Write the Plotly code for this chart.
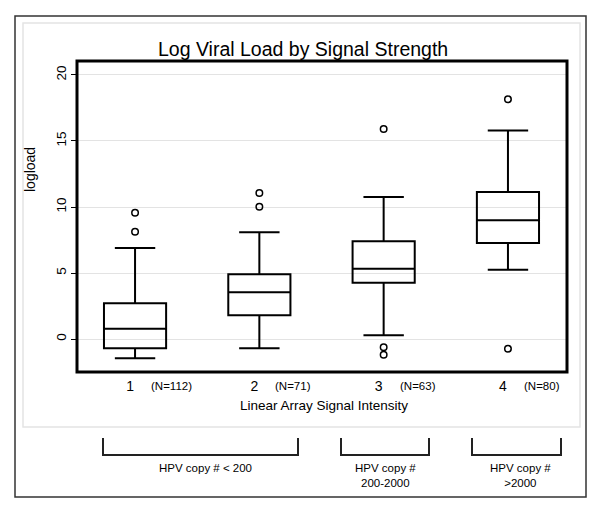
import plotly.graph_objects as go

# ---------------- data ----------------
categories = [1, 2, 3, 4]
tick_labels = ["1", "2", "3", "4"]
n_labels = ["(N=112)", "(N=71)", "(N=63)", "(N=80)"]

q1 = [-0.70, 1.80, 4.27, 7.27]
median = [0.78, 3.54, 5.33, 9.00]
q3 = [2.70, 4.90, 7.40, 11.14]
lower_whisker = [-1.46, -0.70, 0.28, 5.25]
upper_whisker = [6.90, 8.08, 10.76, 15.80]

outlier_x = [1, 1, 2, 2, 3, 3, 3, 4, 4]
outlier_y = [9.57, 8.13, 11.06, 10.02, 15.90, -0.63, -1.20, 18.16, -0.73]

y_ticks = [0, 5, 10, 15, 20]

title_text = "Log Viral Load by Signal Strength"
x_title = "Linear Array Signal Intensity"
y_title = "logload"
group_labels = ["HPV copy # &lt; 200", "HPV copy #<br>200-2000", "HPV copy #<br>&gt;2000"]

# ---------------- layout helpers (pixels -> paper) ----------------
W, H = 600, 509
L, R, T, B = 77, 567, 61, 372


def px(x):
    return (x - L) / (R - L)


def py(y):
    return (B - y) / (B - T)


FONT = "Liberation Sans, Arial, sans-serif"

fig = go.Figure()

fig.add_trace(go.Box(
    x=categories,
    q1=q1, median=median, q3=q3,
    lowerfence=lower_whisker, upperfence=upper_whisker,
    width=0.5, whiskerwidth=0.65,
    line=dict(color="black", width=2),
    fillcolor="rgba(255,255,255,0)",
    boxpoints=False, showlegend=False, hoverinfo="skip",
))

fig.add_trace(go.Scatter(
    x=outlier_x, y=outlier_y, mode="markers",
    marker=dict(symbol="circle-open", size=6.5, color="black", line=dict(width=1.5)),
    showlegend=False, hoverinfo="skip",
))

shapes = [
    # outer frame
    dict(type="rect", xref="paper", yref="paper", x0=px(15), x1=px(586), y0=py(497), y1=py(16),
         line=dict(color="#333333", width=1.5), layer="below"),
    # inner light frame
    dict(type="rect", xref="paper", yref="paper", x0=px(23), x1=px(580), y0=py(427), y1=py(23),
         line=dict(color="#e4e4e4", width=1.5), layer="below"),
    # plot frame
    dict(type="rect", xref="paper", yref="paper", x0=0, x1=1, y0=0, y1=1,
         line=dict(color="black", width=3), layer="above"),
]

brackets = [(103, 298), (341, 429), (472, 561)]
label_centers = [205, 385, 520]
for (bx0, bx1) in brackets:
    shapes.append(dict(
        type="path", xref="paper", yref="paper",
        path=f"M {px(bx0)} {py(438)} L {px(bx0)} {py(455)} L {px(bx1)} {py(455)} L {px(bx1)} {py(438)}",
        line=dict(color="#222222", width=2),
    ))

annotations = []
for c, n in zip(categories, n_labels):
    annotations.append(dict(
        x=c, xref="x", y=py(386), yref="paper", text=n, showarrow=False,
        xanchor="left", yanchor="middle", xshift=14,
        font=dict(family=FONT, size=11.5, color="black"),
    ))

for cx, lab in zip(label_centers, group_labels):
    annotations.append(dict(
        x=px(cx), xref="paper", y=py(460), yref="paper", text=lab, showarrow=False,
        xanchor="center", yanchor="top",
        font=dict(family=FONT, size=11.5, color="black"),
    ))

annotations.append(dict(
    x=px(30), xref="paper", y=py(170), yref="paper", text=y_title, showarrow=False,
    textangle=-90, xanchor="center", yanchor="middle",
    font=dict(family=FONT, size=14, color="black"),
))
annotations.append(dict(
    x=px(324), xref="paper", y=py(396), yref="paper", text=x_title, showarrow=False,
    xanchor="center", yanchor="top",
    font=dict(family=FONT, size=13.5, color="black"),
))
annotations.append(dict(
    x=px(303), xref="paper", y=py(49), yref="paper", text=title_text, showarrow=False,
    xanchor="center", yanchor="middle",
    font=dict(family=FONT, size=19.5, color="black"),
))

fig.update_layout(
    width=W, height=H,
    margin=dict(l=L, r=W - R, t=T, b=H - B, pad=0),
    paper_bgcolor="white", plot_bgcolor="white",
    font=dict(family=FONT, color="black"),
    shapes=shapes, annotations=annotations,
    showlegend=False,
    xaxis=dict(
        range=[0.533, 4.475], tickvals=categories, ticktext=tick_labels,
        ticks="", showgrid=False, zeroline=False, showline=False,
        tickfont=dict(size=14, color="black"), ticklabelshift=-5, ticklabelstandoff=4,
        fixedrange=True,
    ),
    yaxis=dict(
        range=[-2.5, 21.06], tickvals=y_ticks, ticks="outside", ticklen=5,
        tickcolor="black", tickwidth=1, tickangle=-90,
        tickfont=dict(size=13.5, color="black"),
        showgrid=True, gridcolor="#e3e3e3", gridwidth=1,
        zeroline=False, showline=False, fixedrange=True,
    ),
)

fig.write_html(
    "out.html",
    config={"displayModeBar": False},
    post_script="document.body.style.margin='0';document.body.style.overflow='hidden';",
)
